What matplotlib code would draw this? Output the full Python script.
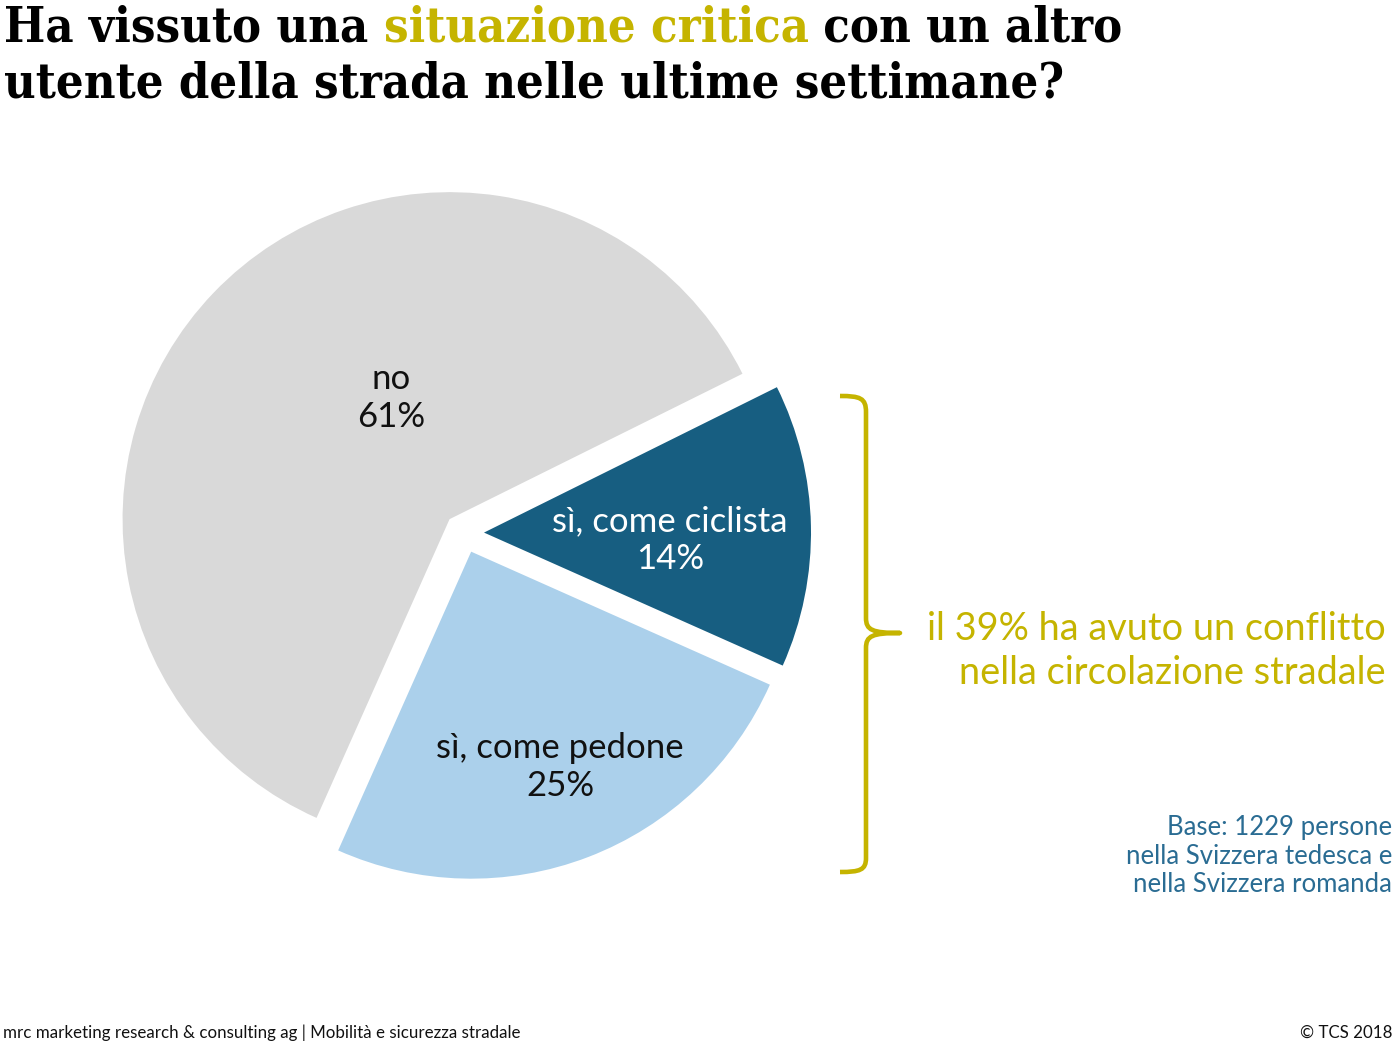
import matplotlib
matplotlib.use("Agg")
import matplotlib.pyplot as plt
from matplotlib.path import Path
from matplotlib.patches import PathPatch

# ---- data ----
categories = ["no", "sì, come ciclista", "sì, come pedone"]
values = [61, 14, 25]
pct_labels = ["61%", "14%", "25%"]
colors = ["#d9d9d9", "#175e81", "#abd0eb"]
label_colors = ["#111111", "#ffffff", "#111111"]

title_parts = [("Ha vissuto una ", "#000000"), ("situazione critica", "#c5b400"),
               (" con un altro", "#000000")]
title_line2 = "utente della strada nelle ultime settimane?"
brace_text = "il 39% ha avuto un conflitto\nnella circolazione stradale"
base_text = "Base: 1229 persone\nnella Svizzera tedesca e\nnella Svizzera romanda"
footer_left = "mrc marketing research & consulting ag | Mobilità e sicurezza stradale"
footer_right = "© TCS 2018"

OLIVE = "#c5b400"
TEAL = "#2a6c93"
W, H = 1400, 1054
R = 327.0  # pie radius in px
CX, CY = 464.0, 533.0  # pie centre in px (from top)

fig = plt.figure(figsize=(W / 100, H / 100), dpi=100)
fig.patch.set_facecolor("white")

# pie axes: one unit = pie radius
ax = fig.add_axes([0, 0, 1, 1])
ax.pie(values, colors=colors, startangle=246, counterclock=False,
       explode=[20 / R] * 3, radius=1.0,
       wedgeprops=dict(linewidth=0))
ax.set_xlim(-CX / R, (W - CX) / R)
ax.set_ylim(-(H - CY) / R, CY / R)
ax.set_aspect("equal")
ax.axis("off")

# overlay axes in pixel coordinates (y down)
ov = fig.add_axes([0, 0, 1, 1], facecolor="none")
ov.set_xlim(0, W)
ov.set_ylim(H, 0)
ov.axis("off")

LAB_FONT = ["Lato", "DejaVu Sans"]
label_pos = [(391, 398), (670, 540), (560, 767)]
for cat, pct, col, (x, y) in zip(categories, pct_labels, label_colors, label_pos):
    ov.text(x, y, f"{cat}\n{pct}", ha="center", va="center", fontsize=25,
            color=col, family=LAB_FONT, weight="normal", linespacing=1.22)

# title with coloured part
fig.canvas.draw()
renderer = fig.canvas.get_renderer()
TITLE_FS = 35
TITLE_KW = dict(fontsize=TITLE_FS, family="DejaVu Serif", weight="bold",
                stretch="condensed")
x = 4
for txt, col in title_parts:
    t = ov.text(x, 42, txt, ha="left", va="baseline", color=col, **TITLE_KW)
    bb = t.get_window_extent(renderer=renderer)
    x += bb.width
ov.text(4, 98, title_line2, ha="left", va="baseline", color="#000000",
        **TITLE_KW)

# brace
verts = [(840, 396), (860, 396), (866, 398), (866, 412),
         (866, 618),
         (866, 630), (872, 633), (900, 633),
         (872, 633), (866, 636), (866, 648),
         (866, 858),
         (866, 870), (860, 872), (840, 872)]
codes = [Path.MOVETO, Path.CURVE4, Path.CURVE4, Path.CURVE4,
         Path.LINETO,
         Path.CURVE4, Path.CURVE4, Path.CURVE4,
         Path.CURVE4, Path.CURVE4, Path.CURVE4,
         Path.LINETO,
         Path.CURVE4, Path.CURVE4, Path.CURVE4]
ov.add_patch(PathPatch(Path(verts, codes), facecolor="none", edgecolor=OLIVE,
                       linewidth=3.3, capstyle="butt", joinstyle="round"))

ov.text(1386, 651, brace_text, ha="right", va="center", fontsize=27.3,
        color=OLIVE, family=LAB_FONT, linespacing=1.3)
ov.text(1392, 856, base_text, ha="right", va="center", fontsize=18.5,
        color=TEAL, family=LAB_FONT, linespacing=1.2)

ov.text(3, 1033, footer_left, ha="left", va="center", fontsize=12.2,
        color="#111111", family=LAB_FONT)
ov.text(1392, 1033, footer_right, ha="right", va="center", fontsize=12.2,
        color="#111111", family=LAB_FONT)

fig.savefig("out.png", dpi=100, facecolor="white")
